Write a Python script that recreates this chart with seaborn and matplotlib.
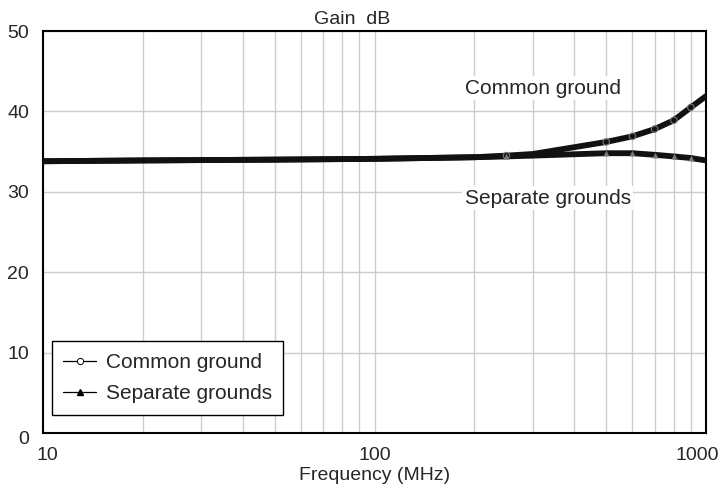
import numpy as np
import pandas as pd
import matplotlib.pyplot as plt
import seaborn as sns
from matplotlib.lines import Line2D
from matplotlib.ticker import FixedLocator, NullFormatter
from matplotlib.transforms import ScaledTranslation

# data
freq = [10, 20, 50, 100, 200, 250, 300, 500, 600, 700, 800, 900, 1000]
common = [33.8, 33.9, 34.0, 34.1, 34.3, 34.5, 34.7, 36.2, 36.9, 37.8, 38.9, 40.5, 41.9]
separate = [33.8, 33.9, 34.0, 34.1, 34.3, 34.4, 34.5, 34.8, 34.8, 34.6, 34.4, 34.2, 33.9]
marker_freq = [250, 500, 600, 700, 800, 900]

df = pd.DataFrame({
    "freq": freq * 2,
    "gain": common + separate,
    "series": ["Common ground"] * len(freq) + ["Separate grounds"] * len(freq),
})

sns.set_style("white")
plt.rcParams["font.family"] = ["Liberation Sans", "DejaVu Sans"]

fig = plt.figure(figsize=(7.27, 4.92), dpi=100)
ax = fig.add_axes([43 / 727, 1 - 433 / 492, 663 / 727, 402 / 492])

sns.lineplot(data=df, x="freq", y="gain", hue="series",
             palette=["#111111", "#111111"], linewidth=4.2, legend=False, ax=ax, zorder=4)

# small markers on the thick lines
mk = df[df["freq"].isin(marker_freq)]
sns.scatterplot(data=mk[mk["series"] == "Common ground"], x="freq", y="gain",
                marker="o", s=22, facecolor="none", edgecolor="#777777", linewidth=0.8,
                ax=ax, zorder=5)
sns.scatterplot(data=mk[mk["series"] == "Separate grounds"], x="freq", y="gain",
                marker="^", s=18, color="#777777", linewidth=0, ax=ax, zorder=5)

ax.set_xscale("log")
ax.set_xlim(10, 1000)
ax.set_ylim(0, 50)

minor = [m * 10 ** d for d in (1, 2) for m in range(2, 10)]
ax.xaxis.set_major_locator(FixedLocator([10, 100, 1000]))
ax.xaxis.set_minor_locator(FixedLocator(minor))
ax.xaxis.set_minor_formatter(NullFormatter())
ax.set_xticklabels(["10", "100", "1000"])
ax.set_yticks([0, 10, 20, 30, 40, 50])

ax.grid(True, which="both", color="#cccccc", linewidth=1.0)
ax.set_axisbelow(True)
for s in ax.spines.values():
    s.set_color("black")
    s.set_linewidth(1.5)

ax.tick_params(axis="x", which="both", length=0, labelsize=14, pad=10)
ax.tick_params(axis="y", which="both", length=0, labelsize=14, pad=10)

# nudge end labels like the reference
xl = ax.get_xticklabels()
xl[0].set_transform(xl[0].get_transform() + ScaledTranslation(4 / 100, 0, fig.dpi_scale_trans))
xl[2].set_transform(xl[2].get_transform() + ScaledTranslation(-9 / 100, 0, fig.dpi_scale_trans))
yl = ax.get_yticklabels()
yl[0].set_transform(yl[0].get_transform() + ScaledTranslation(0, -4 / 100, fig.dpi_scale_trans))

ax.set_xlabel("Frequency (MHz)", fontsize=14, labelpad=2)
ax.set_ylabel("")
ax.set_title("Gain  dB", fontsize=14, pad=5, x=0.466)

ax.text(187, 42.9, "Common ground", fontsize=15, ha="left", va="center", zorder=2,
        bbox=dict(facecolor="white", edgecolor="none", pad=2))
ax.text(187, 29.2, "Separate grounds", fontsize=15, ha="left", va="center", zorder=2,
        bbox=dict(facecolor="white", edgecolor="none", pad=2))

handles = [
    Line2D([], [], color="black", linewidth=0.9, marker="o", markersize=4.5,
           markerfacecolor="white", markeredgecolor="black", markeredgewidth=0.7),
    Line2D([], [], color="black", linewidth=0.9, marker="^", markersize=4.5,
           markerfacecolor="black", markeredgecolor="black"),
]
leg = ax.legend(handles, ["Common ground", "Separate grounds"], loc="lower left",
                bbox_to_anchor=(0.013, 0.045), fontsize=15, frameon=True,
                fancybox=False, handlelength=1.6, handletextpad=0.45,
                borderpad=0.55, labelspacing=0.6, borderaxespad=0)
leg.get_frame().set_edgecolor("black")
leg.get_frame().set_linewidth(1.0)
leg.get_frame().set_alpha(1)

fig.savefig("out.png", dpi=100)
